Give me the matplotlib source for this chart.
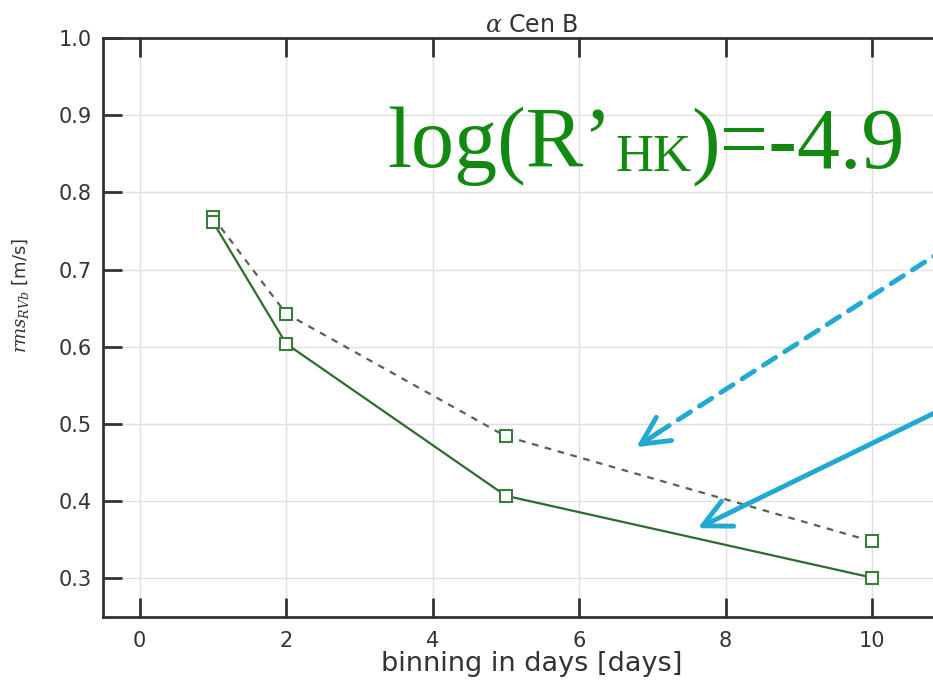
import matplotlib.pyplot as plt
import numpy as np

# binning (days) and rms of RV residuals for alpha Cen B
bins = [1, 2, 5, 10]
rms_solid = [0.762, 0.604, 0.407, 0.301]
rms_dashed = [0.768, 0.643, 0.484, 0.348]
xticks = [0, 2, 4, 6, 8, 10]
yticks = [0.3, 0.4, 0.5, 0.6, 0.7, 0.8, 0.9, 1.0]

plt.rcParams["mathtext.fontset"] = "dejavuserif"

fig = plt.figure(figsize=(9.33, 6.88), dpi=100)
# right spine sits just outside the cropped picture
ax = fig.add_axes([0.1104, 0.1032, 0.9185, 0.8416])

ax.plot(bins, rms_dashed, ls=(0, (3, 3)), lw=1.6, color="#4f654f",
        marker="s", ms=8, mfc="white", mec="#3a7d3a", mew=1.5)
ax.plot(bins, rms_solid, ls="-", lw=1.6, color="#2f6a2f",
        marker="s", ms=8, mfc="white", mec="#3a7d3a", mew=1.5)

ax.set_xlim(-0.5, 11.2)
ax.set_ylim(0.25, 1.0)
ax.set_xticks(xticks)
ax.set_yticks(yticks)
ax.set_yticklabels([f"{v:.1f}" for v in yticks])
ax.tick_params(direction="in", length=14, width=2, top=True, right=True,
               labelsize=15, labelcolor="#333333", color="#333333", pad=8)
ax.tick_params(axis="x", pad=10)
for s in ax.spines.values():
    s.set_linewidth(2)
    s.set_color("#333333")
ax.spines["right"].set_visible(False)
ax.grid(True, color="#e0e0e0", lw=1)

ax.set_title(r"$\alpha$ Cen B", fontsize=17, color="#333333", pad=4)
ax.set_xlabel("binning in days [days]", fontsize=19.5, color="#333333", labelpad=0)
ax.set_ylabel(r"$rms_{RVb}$ [m/s]", fontsize=13, color="#333333")
ax.yaxis.set_label_coords(-0.084, 0.556)

green = "#128a12"
base = 0.777
t1 = ax.text(0.332, base, "log(R\u2019", transform=ax.transAxes, fontsize=62,
             family="Liberation Serif", color=green, va="baseline")
t2 = ax.annotate("HK", xy=(1, base), xycoords=(t1, "axes fraction"),
                 xytext=(2, -3), textcoords="offset points", fontsize=38,
                 family="Liberation Serif", color=green, va="baseline")
t3 = ax.annotate(")=-4.9", xy=(1, base), xycoords=(t2, "axes fraction"),
                 xytext=(0, 0), textcoords="offset points", fontsize=62,
                 family="Liberation Serif", color=green, va="baseline")

arrow_col = "#22a9d1"
head = "->,head_length=1.0,head_width=0.5"
# dashed shaft, solid head
ax.annotate("", xy=(6.95, 0.481), xytext=(11.3, 0.745),
            arrowprops=dict(arrowstyle="-", color=arrow_col, lw=3.5,
                            ls=(0, (3, 2.2)), shrinkA=0, shrinkB=0),
            annotation_clip=False)
ax.annotate("", xy=(6.78, 0.470), xytext=(7.1, 0.490),
            arrowprops=dict(arrowstyle=head, color=arrow_col, lw=3.5,
                            mutation_scale=20, shrinkA=0, shrinkB=0),
            annotation_clip=False)
ax.annotate("", xy=(7.62, 0.365), xytext=(11.3, 0.535),
            arrowprops=dict(arrowstyle=head, color=arrow_col, lw=3.5,
                            mutation_scale=20, shrinkA=0, shrinkB=0),
            annotation_clip=False)

fig.savefig("out.png", dpi=100)
